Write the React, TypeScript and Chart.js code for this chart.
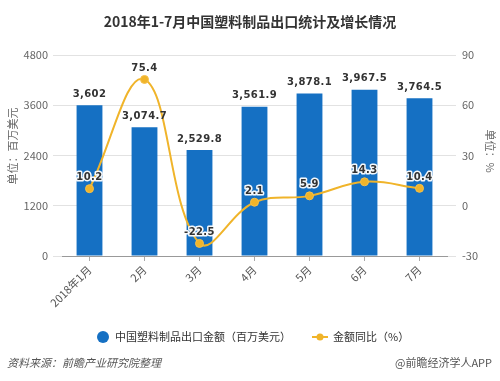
import React, { useEffect, useRef } from "react";
import { Chart, registerables } from "chart.js";

Chart.register(...registerables);

const categories = ["2018年1月", "2月", "3月", "4月", "5月", "6月", "7月"];
const exportValues = [3602, 3074.7, 2529.8, 3561.9, 3878.1, 3967.5, 3764.5];
const growthValues = [10.2, 75.4, -22.5, 2.1, 5.9, 14.3, 10.4];
const leftTicks = { min: 0, max: 4800, step: 1200 };
const rightTicks = { min: -30, max: 90, step: 30 };

const titleText = "2018年1-7月中国塑料制品出口统计及增长情况";
const barSeriesName = "中国塑料制品出口金额（百万美元）";
const lineSeriesName = "金额同比（%）";
const leftAxisTitle = "单位：百万美元";
const rightAxisTitle = "单位：%";
const sourceText = "资料来源：前瞻产业研究院整理";
const brandText = "@前瞻经济学人APP";

const BLUE = "#1570c3";
const ORANGE = "#f0b42a";
const CJK = '"Noto Sans CJK SC", "Noto Sans", sans-serif';

const decorPlugin = {
  id: "decor",
  afterDatasetsDraw(chart: any) {
    const ctx = chart.ctx as CanvasRenderingContext2D;
    ctx.save();
    const barMeta = chart.getDatasetMeta(0);
    ctx.font = 'bold 10px "DejaVu Sans", sans-serif';
    (ctx as any).letterSpacing = "0.4px";
    ctx.textAlign = "center";
    ctx.textBaseline = "middle";
    ctx.fillStyle = "#333";
    barMeta.data.forEach((el: any, i: number) => {
      const txt = exportValues[i].toLocaleString("en-US");
      ctx.fillText(txt, el.x, el.y - 11);
    });
    const lineMeta = chart.getDatasetMeta(1);
    lineMeta.data.forEach((el: any, i: number) => {
      const txt = String(growthValues[i]);
      ctx.lineWidth = 3;
      ctx.strokeStyle = "rgba(255,255,255,0.95)";
      ctx.lineJoin = "round";
      ctx.strokeText(txt, el.x, el.y - 11);
      ctx.fillStyle = "#333";
      ctx.fillText(txt, el.x, el.y - 11);
    });
    ctx.restore();
  },
  afterDraw(chart: any) {
    const ctx = chart.ctx as CanvasRenderingContext2D;
    ctx.save();
    ctx.font = `bold 14px ${CJK}`;
    ctx.fillStyle = "#333";
    ctx.textAlign = "center";
    ctx.textBaseline = "middle";
    ctx.fillText(titleText, 250, 22);
    ctx.font = `11px ${CJK}`;
    ctx.fillStyle = "#666";
    ctx.save();
    ctx.translate(13, 146);
    ctx.rotate(-Math.PI / 2);
    ctx.fillText(leftAxisTitle, 0, 0);
    ctx.restore();
    ctx.save();
    ctx.translate(490, 151);
    ctx.rotate(Math.PI / 2);
    ctx.fillText(rightAxisTitle, 0, 0);
    ctx.restore();
    ctx.fillStyle = BLUE;
    ctx.beginPath();
    ctx.arc(103, 337, 6, 0, Math.PI * 2);
    ctx.fill();
    ctx.font = `11px ${CJK}`;
    ctx.fillStyle = "#333";
    ctx.textAlign = "left";
    ctx.fillText(barSeriesName, 115, 337);
    ctx.strokeStyle = ORANGE;
    ctx.lineWidth = 2;
    ctx.beginPath();
    ctx.moveTo(312, 337);
    ctx.lineTo(328, 337);
    ctx.stroke();
    ctx.fillStyle = ORANGE;
    ctx.beginPath();
    ctx.arc(320, 337, 3.5, 0, Math.PI * 2);
    ctx.fill();
    ctx.fillStyle = "#333";
    ctx.fillText(lineSeriesName, 333, 337);
    ctx.font = `italic 11px ${CJK}`;
    ctx.fillStyle = "#555";
    ctx.fillText(sourceText, 7, 363);
    ctx.font = `11px ${CJK}`;
    ctx.textAlign = "right";
    ctx.fillText(brandText, 492, 363);
    ctx.restore();
  },
};

export default function App() {
  const canvasRef = useRef<HTMLCanvasElement | null>(null);

  useEffect(() => {
    if (!canvasRef.current) return;
    Chart.defaults.font.family = CJK;
    const chart = new Chart(canvasRef.current, {
      type: "bar",
      data: {
        labels: categories,
        datasets: [
          {
            type: "bar",
            label: barSeriesName,
            data: exportValues,
            backgroundColor: BLUE,
            yAxisID: "y",
            categoryPercentage: 1,
            barPercentage: 0.47,
            order: 1,
          } as any,
          {
            type: "line",
            label: lineSeriesName,
            data: growthValues,
            borderColor: ORANGE,
            backgroundColor: ORANGE,
            borderWidth: 2,
            pointRadius: 4,
            pointBackgroundColor: ORANGE,
            pointBorderColor: "#f5c04a",
            pointBorderWidth: 1,
            tension: 0.4,
            yAxisID: "y1",
            order: 0,
          } as any,
        ],
      },
      options: {
        responsive: false,
        animation: false,
        layout: { padding: { top: 55, left: 0, right: 0, bottom: 0 } },
        plugins: {
          legend: { display: false },
          title: { display: false },
          tooltip: { enabled: false },
        },
        scales: {
          x: {
            type: "category",
            offset: true,
            grid: {
              offset: false,
              drawOnChartArea: false,
              drawTicks: true,
              tickLength: 5,
              color: "#aaa",
            },
            border: { display: true, color: "#999" },
            ticks: {
              maxRotation: 45,
              minRotation: 45,
              padding: 2,
              color: "#555",
              font: { size: 11 },
            },
            afterFit(scale: any) {
              scale.height = 125;
            },
          },
          y: {
            position: "left",
            min: leftTicks.min,
            max: leftTicks.max,
            ticks: {
              stepSize: leftTicks.step,
              padding: 5,
              color: "#666",
              font: { size: 11 },
              callback: (v: any) => String(v),
            },
            grid: { color: "#e2e2e2", tickLength: 9 },
            border: { display: false },
            afterFit(scale: any) {
              scale.width = 62;
            },
          },
          y1: {
            position: "right",
            min: rightTicks.min,
            max: rightTicks.max,
            ticks: {
              stepSize: rightTicks.step,
              padding: 6,
              color: "#666",
              font: { size: 11 },
              callback: (v: any) => String(v),
            },
            grid: { drawOnChartArea: false, color: "#e2e2e2", tickLength: 9 },
            border: { display: false },
            afterFit(scale: any) {
              scale.width = 53;
            },
          },
        },
      } as any,
      plugins: [decorPlugin],
    });
    return () => chart.destroy();
  }, []);

  return (
    <div style={{ position: "absolute", left: 0, top: 0, width: 500, height: 381, background: "#fff" }}>
      <canvas ref={canvasRef} width={500} height={381} style={{ display: "block" }} />
    </div>
  );
}
